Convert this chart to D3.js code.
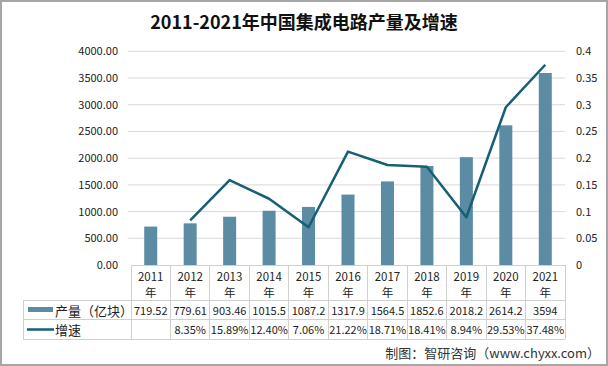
<!DOCTYPE html>
<html><head><meta charset="utf-8">
<script src="https://cdn.jsdelivr.net/npm/d3@7"></script>
<style>body{margin:0;background:#fff;}svg{display:block;}text{font-family:"Noto Sans CJK SC","Noto Sans",sans-serif;}</style>
</head><body>
<svg id="c" width="608" height="366"></svg>
<script>
const years = ["2011","2012","2013","2014","2015","2016","2017","2018","2019","2020","2021"];
const output = [719.52,779.61,903.46,1015.5,1087.2,1317.9,1564.5,1852.6,2018.2,2614.2,3594];
const outputLabels = ["719.52","779.61","903.46","1015.5","1087.2","1317.9","1564.5","1852.6","2018.2","2614.2","3594"];
const growth = [null,0.0835,0.1589,0.1240,0.0706,0.2122,0.1871,0.1841,0.0894,0.2953,0.3748];
const growthLabels = ["","8.35%","15.89%","12.40%","7.06%","21.22%","18.71%","18.41%","8.94%","29.53%","37.48%"];
const leftTicks = [0,500,1000,1500,2000,2500,3000,3500,4000];
const rightTicks = [0,0.05,0.1,0.15,0.2,0.25,0.3,0.35,0.4];
const title = "2011-2021年中国集成电路产量及增速";
const seriesNames = ["产量（亿块）","增速"];
const source = "制图：智研咨询（www.chyxx.com）";

const svg = d3.select("#c");
const L = 131, R = 565, T = 51.3, B = 265;
const barColor = "#5b8ca3", lineColor = "#165f74", gridColor = "#d9d9d9", tableColor = "#d0d0d0";

// frame
svg.append("rect").attr("x",1).attr("y",1).attr("width",606).attr("height",364)
  .attr("fill","#fff").attr("stroke","#a6a6a6").attr("stroke-width",2);

svg.append("text").attr("x",304).attr("y",29).attr("text-anchor","middle")
  .attr("font-size",18).attr("font-weight","bold").attr("fill","#111").text(title);

const x = d3.scaleBand().domain(years).range([L,R]);
const yL = d3.scaleLinear().domain([0,4000]).range([B,T]);
const yR = d3.scaleLinear().domain([0,0.4]).range([B,T]);

// grid
svg.append("g").selectAll("line").data(leftTicks.slice(1)).join("line")
  .attr("x1",L-3).attr("x2",R).attr("y1",d=>yL(d)).attr("y2",d=>yL(d))
  .attr("stroke",gridColor).attr("stroke-width",1);

// left axis
const gl = svg.append("g").attr("transform",`translate(${L-13},0)`)
  .call(d3.axisLeft(yL).tickValues(leftTicks).tickFormat(d=>d3.format(".2f")(d)).tickSize(0).tickPadding(0));
gl.select(".domain").remove();
gl.selectAll("text").attr("font-size",11).attr("fill","#222").attr("font-family","'Liberation Sans',Arial,sans-serif");

// right axis
const gr = svg.append("g").attr("transform",`translate(${R+11},0)`)
  .call(d3.axisRight(yR).tickValues(rightTicks).tickFormat(d=>d3.format("~g")(d)).tickSize(0).tickPadding(0));
gr.select(".domain").remove();
gr.selectAll("text").attr("font-size",11).attr("fill","#222").attr("font-family","'Liberation Sans',Arial,sans-serif");

// bars
const bw = 13;
svg.append("g").selectAll("rect").data(output).join("rect")
  .attr("x",(d,i)=>x(years[i])+x.bandwidth()/2-bw/2).attr("width",bw)
  .attr("y",d=>yL(d)).attr("height",d=>B-yL(d)).attr("fill",barColor);

// line
const line = d3.line().defined(d=>d!=null)
  .x((d,i)=>x(years[i])+x.bandwidth()/2).y(d=>yR(d));
svg.append("path").datum(growth).attr("d",line).attr("fill","none")
  .attr("stroke",lineColor).attr("stroke-width",2.5).attr("stroke-linejoin","round");

// data table
const tl = 23, r1 = 300, r2 = 319.5, r3 = 339;
const tg = svg.append("g").attr("stroke",tableColor).attr("stroke-width",1).attr("shape-rendering","crispEdges");
tg.append("line").attr("x1",L).attr("x2",R).attr("y1",B+0.5).attr("y2",B+0.5);
[r1,r2,r3].forEach(y=>tg.append("line").attr("x1",tl).attr("x2",R).attr("y1",y).attr("y2",y));
tg.append("line").attr("x1",tl).attr("x2",tl).attr("y1",r1).attr("y2",r3);
years.concat(["end"]).forEach((yy,i)=>{
  const xx = i<years.length ? x(yy) : R;
  tg.append("line").attr("x1",xx).attr("x2",xx).attr("y1",B).attr("y2",r3);
});

const tx = svg.append("g").attr("font-size",11).attr("fill","#222");
years.forEach((yy,i)=>{
  const cx = x(yy)+x.bandwidth()/2;
  tx.append("text").attr("x",cx).attr("y",281).attr("text-anchor","middle").attr("font-size",11.5).text(yy);
  tx.append("text").attr("x",cx).attr("y",297).attr("text-anchor","middle").attr("font-size",11.5).text("年");
  tx.append("text").attr("x",cx).attr("y",314.5).attr("text-anchor","middle").text(outputLabels[i]);
  tx.append("text").attr("x",cx).attr("y",334).attr("text-anchor","middle").text(growthLabels[i]);
});
// legend keys
svg.append("rect").attr("x",28).attr("y",307).attr("width",25).attr("height",5).attr("fill",barColor);
svg.append("line").attr("x1",27).attr("x2",54).attr("y1",329.5).attr("y2",329.5).attr("stroke",lineColor).attr("stroke-width",2.5);
tx.append("text").attr("x",55).attr("y",315.5).attr("font-size",13).text(seriesNames[0]);
tx.append("text").attr("x",55).attr("y",335).attr("font-size",13).text(seriesNames[1]);

svg.append("text").attr("x",600).attr("y",358).attr("text-anchor","end")
  .attr("font-size",13).attr("fill","#333").text(source);
</script>
</body></html>
